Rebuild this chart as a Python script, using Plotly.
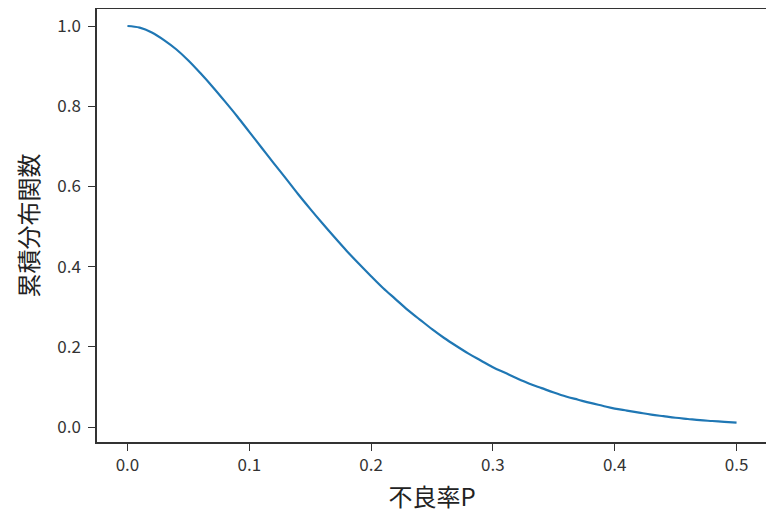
import plotly.graph_objects as go

defect_rate = [round(i * 0.01, 2) for i in range(51)]
cdf_values = [1.000, 0.996, 0.984, 0.965, 0.942, 0.914, 0.882, 0.848, 0.812, 0.775,
              0.736, 0.697, 0.658, 0.620, 0.581, 0.544, 0.508, 0.473, 0.439, 0.407,
              0.376, 0.346, 0.319, 0.292, 0.268, 0.244, 0.222, 0.202, 0.183, 0.166,
              0.149, 0.135, 0.121, 0.108, 0.097, 0.086, 0.076, 0.068, 0.060, 0.053,
              0.046, 0.041, 0.036, 0.031, 0.027, 0.023, 0.020, 0.017, 0.015, 0.013,
              0.011]
x_ticks = [0.0, 0.1, 0.2, 0.3, 0.4, 0.5]
x_tick_labels = ["0.0", "0.1", "0.2", "0.3", "0.4", "0.5"]
y_ticks = [0.0, 0.2, 0.4, 0.6, 0.8, 1.0]
y_tick_labels = ["0.0", "0.2", "0.4", "0.6", "0.8", "1.0"]

FONT = "Noto Sans CJK JP"

fig = go.Figure()
fig.add_trace(go.Scatter(x=defect_rate, y=cdf_values, mode="lines", line_shape="spline",
                         line=dict(color="#1f77b4", width=2.2), showlegend=False))

xmin, xmax = min(defect_rate), max(defect_rate)
xpad = (xmax - xmin) * 0.05

axis_common = dict(showgrid=False, zeroline=False, showline=True, mirror=True,
                   linecolor="#333333", linewidth=1.5, ticks="outside", ticklen=7,
                   tickwidth=1.4, tickcolor="#333333", automargin=False,
                   tickfont=dict(family=FONT, size=17, color="#333333"))

fig.update_xaxes(range=[xmin - xpad, xmax + xpad], tickvals=x_ticks, ticktext=x_tick_labels,
                 title=dict(text="不良率P", font=dict(family=FONT, size=24, color="#222222"), standoff=14),
                 **axis_common)
fig.update_yaxes(range=[-0.0374, 1.0424], tickvals=y_ticks, ticktext=y_tick_labels,
                 ticklabelstandoff=4,
                 title=dict(text="累積分布関数", font=dict(family=FONT, size=24, color="#222222"), standoff=12),
                 **axis_common)

fig.update_layout(width=774, height=514, margin=dict(l=89, r=15, t=1, b=80),
                  plot_bgcolor="white", paper_bgcolor="white",
                  font=dict(family=FONT))

fig.write_html("out.html")
